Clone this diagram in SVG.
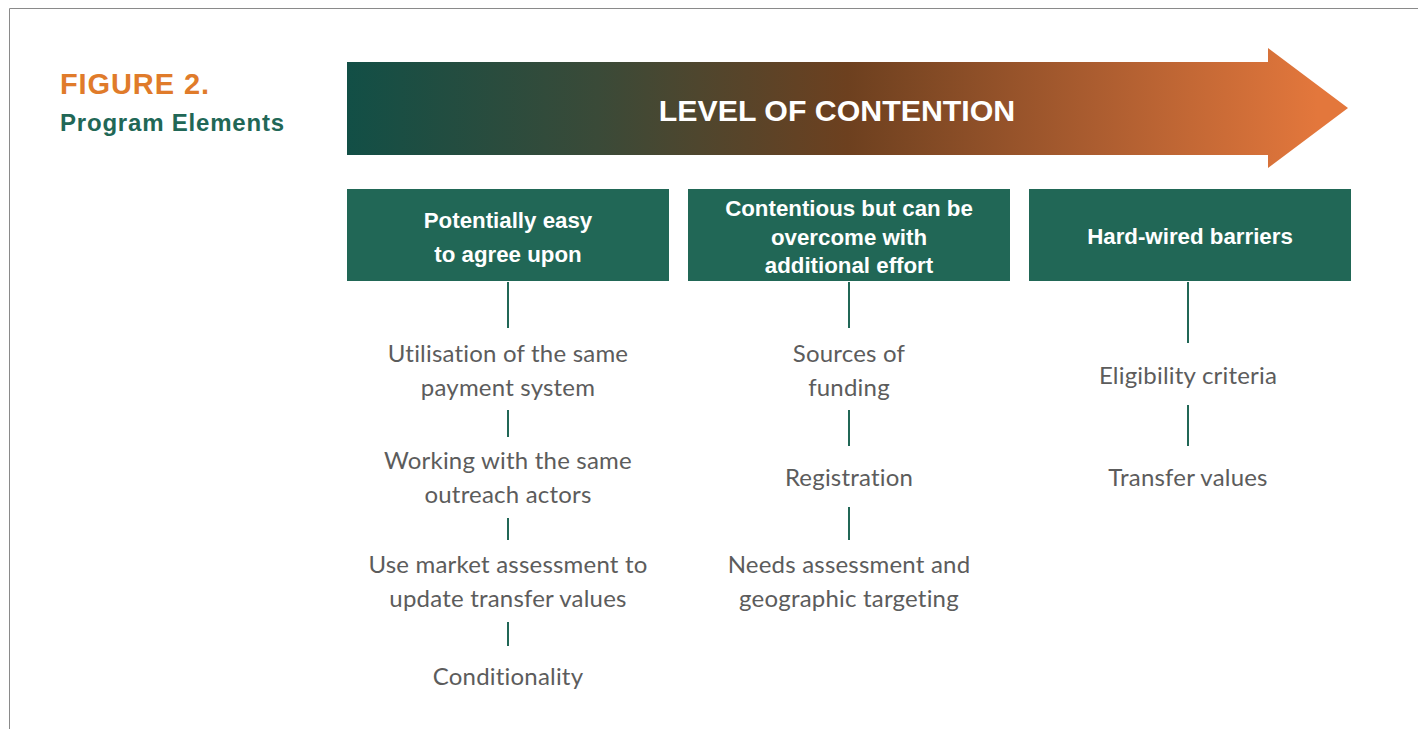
<svg xmlns="http://www.w3.org/2000/svg" width="1418" height="729" viewBox="0 0 1418 729">
<defs>
<linearGradient id="grad" gradientUnits="userSpaceOnUse" x1="347" y1="0" x2="1348" y2="0">
<stop offset="0" stop-color="#124f46"/>
<stop offset="0.25" stop-color="#3a4a38"/>
<stop offset="0.5" stop-color="#6d401f"/>
<stop offset="0.75" stop-color="#ac5d30"/>
<stop offset="0.97" stop-color="#e3773c"/>
<stop offset="1" stop-color="#e3773c"/>
</linearGradient>
<style>
.hdr{fill:#216756}
.ht{font-family:"Liberation Sans",Arial,sans-serif;font-weight:bold;font-size:22.3px;fill:#ffffff;text-anchor:middle}
.bt{font-family:Lato,"Liberation Sans",sans-serif;font-size:24px;letter-spacing:0.2px;fill:#5c5c5c;text-anchor:middle}
.cn{stroke:#216756;stroke-width:2;fill:none}
</style>
</defs>
<rect x="0" y="0" width="1418" height="729" fill="#ffffff"/>
<path d="M9.5 729 V8.5 H1418" fill="none" stroke="#8a8a8a" stroke-width="1"/>
<g id="title">
<text x="60" y="94" font-family="Liberation Sans,Arial,sans-serif" font-weight="bold" font-size="29" letter-spacing="0.9" fill="#e07b2a">FIGURE 2.</text>
<text x="60" y="131" font-family="Liberation Sans,Arial,sans-serif" font-weight="bold" font-size="24" letter-spacing="0.8" fill="#216756">Program Elements</text>
</g>
<g id="arrow">
<path d="M347 62 H1268 V48 L1348 108 L1268 168 V155 H347 Z" fill="url(#grad)"/>
<text x="837" y="121" font-family="Liberation Sans,Arial,sans-serif" font-weight="bold" font-size="30.3" fill="#ffffff" text-anchor="middle">LEVEL OF CONTENTION</text>
</g>
<g id="connectors">
<line class="cn" x1="508" y1="282" x2="508" y2="328"/>
<line class="cn" x1="508" y1="410" x2="508" y2="437"/>
<line class="cn" x1="508" y1="518" x2="508" y2="540"/>
<line class="cn" x1="508" y1="622" x2="508" y2="646"/>
<line class="cn" x1="849" y1="282" x2="849" y2="328"/>
<line class="cn" x1="849" y1="410" x2="849" y2="446"/>
<line class="cn" x1="849" y1="507" x2="849" y2="540"/>
<line class="cn" x1="1188" y1="282" x2="1188" y2="343"/>
<line class="cn" x1="1188" y1="405" x2="1188" y2="446"/>
</g>
<g id="box1">
<rect class="hdr" x="347" y="189" width="322" height="92"/>
<text class="ht" x="508" y="228">Potentially easy</text>
<text class="ht" x="508" y="262">to agree upon</text>
</g>
<g id="box2">
<rect class="hdr" x="688" y="189" width="322" height="92"/>
<text class="ht" x="849" y="216">Contentious but can be</text>
<text class="ht" x="849" y="245">overcome with</text>
<text class="ht" x="849" y="273">additional effort</text>
</g>
<g id="box3">
<rect class="hdr" x="1029" y="189" width="322" height="92"/>
<text class="ht" x="1190" y="244">Hard-wired barriers</text>
</g>
<g id="item-payment">
<text class="bt" x="508" y="362">Utilisation of the same</text>
<text class="bt" x="508" y="396">payment system</text>
</g>
<g id="item-outreach">
<text class="bt" x="508" y="469">Working with the same</text>
<text class="bt" x="508" y="503">outreach actors</text>
</g>
<g id="item-market">
<text class="bt" x="508" y="573">Use market assessment to</text>
<text class="bt" x="508" y="607">update transfer values</text>
</g>
<g id="item-conditionality">
<text class="bt" x="508" y="685">Conditionality</text>
</g>
<g id="item-funding">
<text class="bt" x="849" y="362">Sources of</text>
<text class="bt" x="849" y="396">funding</text>
</g>
<g id="item-registration">
<text class="bt" x="849" y="486">Registration</text>
</g>
<g id="item-needs">
<text class="bt" x="849" y="573">Needs assessment and</text>
<text class="bt" x="849" y="607">geographic targeting</text>
</g>
<g id="item-eligibility">
<text class="bt" x="1188" y="384">Eligibility criteria</text>
</g>
<g id="item-transfer">
<text class="bt" x="1188" y="486">Transfer values</text>
</g>
</svg>
